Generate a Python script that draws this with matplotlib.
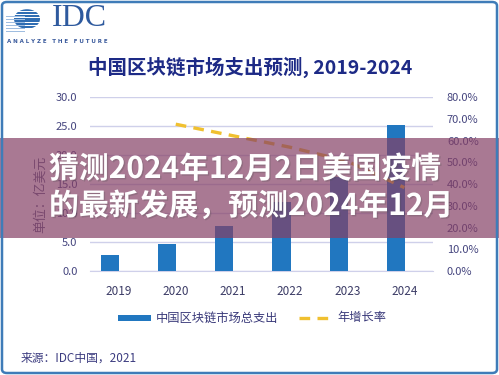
import matplotlib
matplotlib.use("Agg")
import matplotlib.pyplot as plt
from matplotlib.patches import Rectangle, FancyBboxPatch, Circle
from matplotlib.lines import Line2D
import matplotlib.patheffects as pe
import numpy as np

plt.rcParams['font.family'] = ['Noto Sans CJK SC', 'DejaVu Sans']

# ---- data ----
years = ["2019", "2020", "2021", "2022", "2023", "2024"]
spending = [2.8, 4.7, 7.7, 12.0, 16.2, 25.3]          # 亿美元
growth_years = ["2020", "2021", "2022", "2023", "2024"]
growth = [67.6, 62.3, 57.0, 50.6, 38.4]               # %
left_ticks = [0, 5, 10, 15, 20, 25, 30]
right_ticks = [0, 10, 20, 30, 40, 50, 60, 70, 80]

title = "中国区块链市场支出预测, 2019-2024"
bar_label = "中国区块链市场总支出"
line_label = "年增长率"
ylabel = "单位：亿美元"
source = "来源：IDC中国，2021"
overlay_lines = ["猜测2024年12月2日美国疫情", "的最新发展，预测2024年12月"]

W, H = 499, 375
def fx(x): return x / W
def fy(y): return 1 - y / H

BAR = "#2177c0"
LINE = "#f0c030"
NAVY = "#1d2a86"
TICK = "#45457e"
GRID = "#cfd0ea"

fig = plt.figure(figsize=(W / 100, H / 100), dpi=100)
fig.patch.set_facecolor("white")

# ---- main axes ----
ax = fig.add_axes([fx(90), fy(271), fx(433) - fx(90), fy(97.3) - fy(271)])
x = np.arange(len(years))
ax.bar(x - 0.15, spending, width=0.32, color=BAR, zorder=3)
ax.set_xlim(-0.5, len(years) - 0.5)
ax.set_ylim(0, 30)
ax.set_yticks(left_ticks)
ax.set_yticklabels([f"{v:.1f}" for v in left_ticks])
ax.set_xticks(x)
ax.set_xticklabels(years)
ax.grid(axis="y", color=GRID, linewidth=1.0, zorder=0)
ax.set_axisbelow(True)
for s in ["top", "right", "left"]:
    ax.spines[s].set_visible(False)
ax.spines["bottom"].set_color(GRID)
ax.tick_params(axis="y", length=0, pad=9, labelsize=8, labelcolor=TICK)
ax.tick_params(axis="x", length=0, pad=10, labelsize=8.5, labelcolor="#3c3c66")
ax.set_facecolor("none")

ax2 = ax.twinx()
gx = [years.index(y) for y in growth_years]
ax2.plot(gx, growth, color=LINE, linewidth=2.4, linestyle=(0, (3.2, 2.2)),
         zorder=4)
ax2.set_ylim(0, 80)
ax2.set_yticks(right_ticks)
ax2.set_yticklabels([f"{v:.1f}%" for v in right_ticks])
ax2.tick_params(axis="y", length=0, pad=10, labelsize=8, labelcolor=TICK)
for s in ax2.spines.values():
    s.set_visible(False)

# y label
fig.text(fx(40), fy(194), ylabel, rotation=90, ha="center", va="center",
         fontsize=9.3, color="#5a5a80")

# ---- title ----
fig.text(fx(250), fy(67), title, ha="center", va="center", fontsize=14,
         fontweight="bold", color=NAVY)

# ---- legend (manual) ----
fig.patches.append(Rectangle((fx(118), fy(321)), fx(151) - fx(118), fy(315) - fy(321),
                             transform=fig.transFigure, facecolor=BAR, edgecolor="none"))
fig.text(fx(156), fy(318), bar_label, ha="left", va="center", fontsize=8.8,
         color="#3a3a7a")
fig.lines.append(Line2D([fx(299), fx(333)], [fy(318), fy(318)], transform=fig.transFigure,
                        color=LINE, linewidth=2.4, linestyle=(0, (3.2, 2.2))))
fig.text(fx(337), fy(318), line_label, ha="left", va="center", fontsize=8.8,
         color="#3a3a7a")

# ---- source ----
fig.text(fx(21), fy(358), source, ha="left", va="center", fontsize=8.5,
         color="#3c3c80")

# ---- IDC logo ----
cx, cy, r = 27, 19, 13
for i in range(9):
    y0 = cy - r + i * (2 * r / 9)
    stripe = Rectangle((fx(cx - r - 6), fy(y0 + 2.0)), (2 * r + 6) / W, 2.0 / H,
                       transform=fig.transFigure, facecolor="#2f6db3", edgecolor="none")
    fig.patches.append(stripe)
    stripe.set_clip_path(Circle((fx(cx), fy(cy)), r / W, transform=fig.transFigure))
    lt = Rectangle((fx(cx - r - 8), fy(y0 + 2.4)), (r + 6) / W, 0.6 / H,
                   transform=fig.transFigure, facecolor="#9fbde0", edgecolor="none")
    fig.patches.append(lt)
fig.text(fx(52), fy(19), "IDC", ha="left", va="center", fontsize=23,
         family="Liberation Serif", color="#2e5a9e")
fig.text(fx(7), fy(41.5), "A N A L Y Z E   T H E   F U T U R E", ha="left", va="center",
         fontsize=4.0, fontweight="bold", family="DejaVu Sans", color="#3a5a9c")

# ---- overlay banner ----
fig.patches.append(Rectangle((0, fy(238)), 1, fy(138) - fy(238), transform=fig.transFigure,
                             facecolor=(0.52, 0.25, 0.40), alpha=0.7, edgecolor="none",
                             zorder=10))
for i, (ln, yy) in enumerate(zip(overlay_lines, [169, 206])):
    fig.text(fx(49), fy(yy), ln, ha="left", va="center", fontsize=21.5,
             fontweight="bold", color="white", zorder=11,
             path_effects=[pe.withSimplePatchShadow(offset=(1, -1), alpha=0.25)])

# ---- rounded border ----
fig.patches.append(FancyBboxPatch((fx(2), fy(373)), fx(497) - fx(2), fy(2) - fy(373),
                                  boxstyle="round,pad=0,rounding_size=0.01",
                                  transform=fig.transFigure, facecolor="none",
                                  edgecolor="#3f7cb8", linewidth=1.8, zorder=12))

fig.savefig("out.png", dpi=100)
